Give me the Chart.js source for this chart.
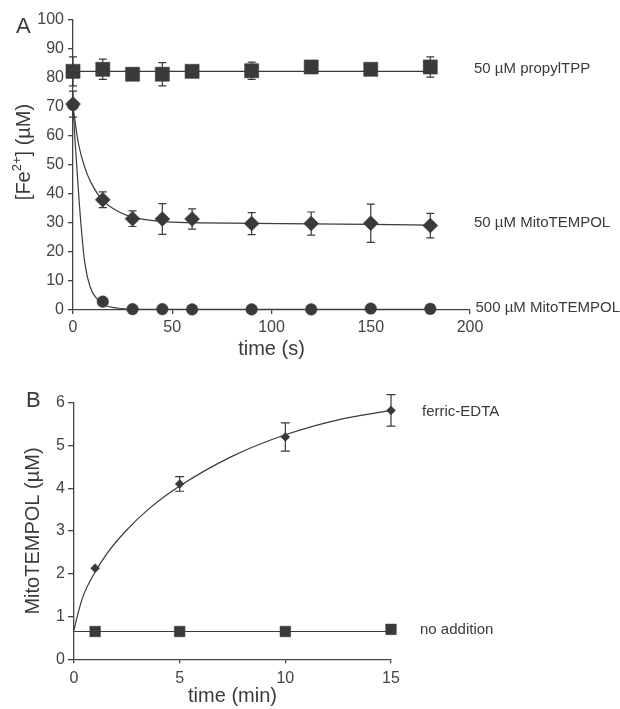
<!DOCTYPE html>
<html>
<head>
<meta charset="utf-8">
<script src="https://cdn.jsdelivr.net/npm/chart.js@4.4.0/dist/chart.umd.min.js"></script>
<style>
body{margin:0;background:#fff;width:620px;height:709px;overflow:hidden;position:relative}
canvas{position:absolute;left:0}
#chartA{top:0}
#chartB{top:362px}
</style>
</head>
<body>
<canvas id="chartA" width="620" height="362"></canvas>
<canvas id="chartB" width="620" height="347"></canvas>
<script>
// panel A: Fe2+ over time (s)
const timeA=[0,15,30,45,60,90,120,150,180];
const propylTPP=[82.3,83,81.3,81.3,82.3,82.5,83.8,83,83.8];
const propylTPPErr=[5,3.5,1,4,1,3,1.5,1.5,3.5];
const mito50=[71,38,31.5,31.4,31.4,29.8,29.8,29.9,29.1];
const mito50Err=[4.5,2.7,2.7,5.3,3.5,3.8,4,6.6,4.2];
const mito500=[70.7,2.9,0.3,0.3,0.2,0.2,0.2,0.5,0.4];
const mito500Err=[0,0,0,0,0,0,0,0,1.5];
// fitted curves
const fitTPPTime=[0,180];
const fitTPP=[82.3,82.3];
const fit50Time=[0,2.7,6,9.4,15,22.8,30,45,60,90,120,150,180];
const fit50=[70,57.5,49,43.5,37.8,34,32,30.5,30.1,29.9,29.7,29.5,29.3];
const fit500Time=[0,1,2.7,4.4,6,8.6,11.9,16,22.8,30,60,120,180];
const fit500=[71,58.6,41.4,26.4,16,8,4,1.7,0.6,0.3,0.2,0.2,0.2];
const ticksA={xMax:200,xStep:50,yMax:100,yStep:10};

// panel B: MitoTEMPOL over time (min)
const timeB=[1,5,10,15];
const ferric=[2.13,4.1,5.2,5.82];
const ferricErr=[0,0.17,0.33,0.37];
const noAdd=[0.65,0.65,0.65,0.7];
const noAddErr=[0,0,0,0.1];
const fitFerricTime=[0,0.15,0.45,0.95,1.6,2.45,3.5,5,7.5,10,12.5,15];
const fitFerric=[0.68,1.0,1.5,2.0,2.5,3.0,3.5,4.05,4.75,5.25,5.6,5.82];
const fitNoAddTime=[0,15];
const fitNoAdd=[0.65,0.65];
const ticksB={xMax:15,xStep:5,yMax:6,yStep:1};

const ink='#3a3a3a';
const axisCol='#444';
const fam='"Liberation Sans", Arial, sans-serif';
Chart.defaults.font.family=fam;

const pts=(xs,ys)=>xs.map((x,i)=>({x:x,y:ys[i]}));

const errorBars={
  id:'errorBars',
  beforeDatasetsDraw(chart){
    const ctx=chart.ctx,xs=chart.scales.x,ys=chart.scales.y;
    chart.data.datasets.forEach(ds=>{
      if(!ds.errors) return;
      ctx.save();
      ctx.strokeStyle=ink;
      ctx.lineWidth=1.2;
      ds.data.forEach((p,i)=>{
        const e=ds.errors[i];
        if(!e) return;
        const x=xs.getPixelForValue(p.x);
        const y1=ys.getPixelForValue(p.y+e),y2=ys.getPixelForValue(p.y-e);
        const w=ds.capWidth||4.5;
        ctx.beginPath();
        ctx.moveTo(x,y1);ctx.lineTo(x,y2);
        ctx.moveTo(x-w,y1);ctx.lineTo(x+w,y1);
        ctx.moveTo(x-w,y2);ctx.lineTo(x+w,y2);
        ctx.stroke();
      });
      ctx.restore();
    });
  }
};

const sideLabels={
  id:'sideLabels',
  afterDraw(chart,args,opts){
    const ctx=chart.ctx,ys=chart.scales.y,area=chart.chartArea;
    ctx.save();
    ctx.fillStyle=ink;
    ctx.font='15px '+fam;
    ctx.textBaseline='middle';
    (opts.items||[]).forEach(it=>{
      ctx.fillText(it.text,area.right+it.dx,ys.getPixelForValue(it.value));
    });
    if(opts.letter){
      ctx.font='22px '+fam;
      ctx.textBaseline='alphabetic';
      ctx.fillText(opts.letter.text,opts.letter.x,opts.letter.y);
    }
    if(opts.yTitle){
      // [Fe2+] (µM) with a real superscript
      const t=opts.yTitle;
      const parts=[['[Fe',20,0],['2+',13,-9],['] (µM)',20,0]];
      let total=0;
      parts.forEach(p=>{ctx.font=p[1]+'px '+fam;total+=ctx.measureText(p[0]).width;});
      ctx.translate(t.x,t.y);
      ctx.rotate(-Math.PI/2);
      let cx=-total/2;
      parts.forEach(p=>{
        ctx.font=p[1]+'px '+fam;
        ctx.fillText(p[0],cx,p[2]);
        cx+=ctx.measureText(p[0]).width;
      });
    }
    ctx.restore();
  }
};

function axisX(max,step,title,pad,height){
  return {
    type:'linear',min:0,max:max,
    ticks:{stepSize:step,color:axisCol,font:{size:16},padding:pad},
    grid:{display:true,drawOnChartArea:false,drawTicks:true,tickLength:4,color:axisCol,lineWidth:1.3},
    border:{color:axisCol,width:1.3},
    title:{display:true,text:title,color:ink,font:{size:20,lineHeight:1},padding:{top:0,bottom:3}},
    afterFit(s){s.height=height;}
  };
}
function axisY(max,step,pad,tick,width,title){
  const a={
    type:'linear',min:0,max:max,
    ticks:{stepSize:step,color:axisCol,font:{size:16},padding:pad},
    grid:{display:true,drawOnChartArea:false,drawTicks:true,tickLength:tick,color:axisCol,lineWidth:1.3},
    border:{color:axisCol,width:1.3},
    afterFit(s){s.width=width;}
  };
  if(title) a.title={display:true,text:title,color:ink,font:{size:20,lineHeight:1},padding:{top:23,bottom:0}};
  return a;
}
const marks=(data,err,style,r,cap)=>({data:data,errors:err,capWidth:cap,pointStyle:style,pointRadius:r,
  backgroundColor:ink,borderColor:ink,borderWidth:0.5,showLine:false,clip:false});
const curve=(data)=>({data:data,showLine:true,pointRadius:0,borderColor:ink,borderWidth:1.2,
  cubicInterpolationMode:'monotone',clip:false});

new Chart(document.getElementById('chartA'),{
  type:'scatter',
  data:{datasets:[
    marks(pts(timeA,propylTPP),propylTPPErr,'rect',10,4),
    marks(pts(timeA,mito50),mito50Err,'rectRot',7.5,4),
    marks(pts(timeA,mito500),mito500Err,'circle',5.8,4),
    curve(pts(fitTPPTime,fitTPP)),
    curve(pts(fit50Time,fit50)),
    curve(pts(fit500Time,fit500))
  ]},
  options:{
    responsive:false,animation:false,
    layout:{padding:{left:0,right:150,top:20,bottom:0}},
    plugins:{legend:{display:false},tooltip:{enabled:false},
      sideLabels:{
        items:[{text:'50 µM propylTPP',value:83.1,dx:4},
               {text:'50 µM MitoTEMPOL',value:30,dx:4},
               {text:'500 µM MitoTEMPOL',value:0.7,dx:5.5}],
        letter:{text:'A',x:16,y:33},
        yTitle:{x:30,y:152}
      }},
    scales:{
      x:axisX(ticksA.xMax,ticksA.xStep,'time (s)',4,52),
      y:axisY(ticksA.yMax,ticksA.yStep,4,5,73,null)
    }
  },
  plugins:[errorBars,sideLabels]
});

new Chart(document.getElementById('chartB'),{
  type:'scatter',
  data:{datasets:[
    marks(pts(timeB,ferric),ferricErr,'rectRot',4.5,4.5),
    marks(pts(timeB,noAdd),noAddErr,'rect',7.5,4.5),
    curve(pts(fitFerricTime,fitFerric)),
    curve(pts(fitNoAddTime,fitNoAdd))
  ]},
  options:{
    responsive:false,animation:false,
    layout:{padding:{left:0,right:229,top:40.7,bottom:0}},
    plugins:{legend:{display:false},tooltip:{enabled:false},
      sideLabels:{
        items:[{text:'ferric-EDTA',value:5.78,dx:31},
               {text:'no addition',value:0.7,dx:29}],
        letter:{text:'B',x:26,y:45}
      }},
    scales:{
      x:axisX(ticksB.xMax,ticksB.xStep,'time (min)',6,49.7),
      y:axisY(ticksB.yMax,ticksB.yStep,3,6,74,'MitoTEMPOL (µM)')
    }
  },
  plugins:[errorBars,sideLabels]
});
</script>
</body>
</html>
